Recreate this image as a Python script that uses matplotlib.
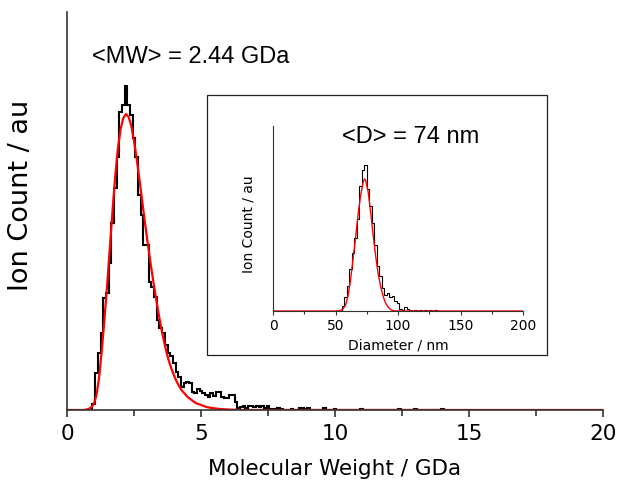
import numpy as np
import matplotlib
matplotlib.use("Agg")
import matplotlib.pyplot as plt
from matplotlib.patches import Rectangle
from matplotlib.ticker import MultipleLocator

# molecular weight histogram, 0.1 GDa bins starting at 0.95 GDa
mw_first_edge = 0.95
mw_bin_width = 0.1
mw_counts = [6, 37, 57, 77, 112, 117, 147, 187, 222, 253,
             298, 305, 324, 305, 295, 272, 253, 215, 195, 165,
             165, 128, 123, 113, 90, 82, 77, 65, 57, 54,
             47, 38, 33, 23, 27, 28, 27, 18, 17, 21,
             19, 17, 15, 13, 17, 14, 18, 18, 13, 12,
             12, 15, 15, 8, 2, 3, 4, 2, 4, 4,
             3, 4, 3, 4, 2, 4, 1, 1, 1, 2,
             1]
# isolated counts further out in the tail
mw_outlier_centres = [8.4, 8.7, 8.8, 8.9, 9.0, 9.6, 10.0, 11.0, 12.4, 13.0, 14.0]
mw_outlier_counts = [1, 2, 2, 1, 2, 2, 1, 1, 1, 1, 1]

# fitted distribution for the molecular weight
mw_fit_x = [0, 0.6, 0.7, 0.8, 0.9, 1.0, 1.1, 1.2, 1.3, 1.4,
            1.5, 1.6, 1.7, 1.8, 1.9, 2.0, 2.1, 2.2, 2.3, 2.4,
            2.5, 2.6, 2.7, 2.8, 2.9, 3.0, 3.1, 3.2, 3.3, 3.4,
            3.5, 3.6, 3.7, 3.8, 3.9, 4.0, 4.1, 4.2, 4.3, 4.4,
            4.5, 4.6, 4.7, 4.8, 4.9, 5.0, 5.2, 5.4, 5.7, 6.0,
            6.5, 20]
mw_fit_y = [0, 0, 0.3, 1, 2.5, 6, 15, 33, 60, 92,
            126, 163, 200, 234, 262, 281, 292, 296, 293, 284,
            269, 251, 231, 210, 189, 169, 150, 132, 115, 99,
            84, 71, 59, 49, 41, 34, 28, 23, 19, 16,
            13, 11, 9, 7, 6, 5, 3, 2, 1, 0.5,
            0, 0]

# diameter histogram, 2 nm bins starting at 55 nm
d_first_edge = 55
d_bin_width = 2
d_counts = [5, 14, 25, 42, 58, 73, 92, 125, 141, 146,
            122, 105, 88, 66, 45, 35, 23, 16, 18, 14,
            15, 10, 8, 2, 1, 4, 2, 1]
d_outlier_centres = [114, 118, 122, 126, 130]
d_outlier_counts = [1, 1, 1, 0.5, 0.5]

# fitted distribution for the diameter
d_fit_x = [0, 50, 52, 54, 56, 58, 60, 62, 64, 66,
           68, 70, 72, 73, 74, 76, 78, 80, 82, 84,
           86, 88, 90, 92, 94, 96, 98, 200]
d_fit_y = [0, 0, 0.2, 0.6, 2, 6, 15, 31, 52, 73,
           96, 115, 128, 132, 131, 120, 100, 77, 56, 38,
           25, 15, 8, 4, 1.5, 0.5, 0, 0]

mw_label = "<MW> = 2.44 GDa"
d_label = "<D> = 74 nm"

SPINE = "#333333"


def binned(first_edge, width, counts, outlier_centres, outlier_counts):
    # put the sparse outliers into the regular bin grid
    last = max(outlier_centres)
    nbins = int(round((last - first_edge) / width)) + 1
    values = np.zeros(nbins)
    values[:len(counts)] = counts
    for c, n in zip(outlier_centres, outlier_counts):
        values[int((c - first_edge) // width)] = n
    edges = first_edge + width * np.arange(nbins + 1)
    return values, edges


def style_axes(ax, lw, major_len, minor_len):
    for side in ("top", "right"):
        ax.spines[side].set_visible(False)
    for side in ("left", "bottom"):
        ax.spines[side].set_linewidth(lw)
        ax.spines[side].set_color(SPINE)
    ax.set_yticks([])
    ax.tick_params(axis="x", which="major", direction="out",
                   length=major_len, width=lw, color=SPINE)
    ax.tick_params(axis="x", which="minor", direction="out",
                   length=minor_len, width=lw, color=SPINE)


fig = plt.figure(figsize=(6.17, 4.86), dpi=100)

##
# main panel: molecular weight
ax = fig.add_axes([0.1086, 0.1564, 0.8687, 0.8189])
values, edges = binned(mw_first_edge, mw_bin_width, mw_counts,
                       mw_outlier_centres, mw_outlier_counts)
ax.stairs(values, edges, color="black", linewidth=1.5, baseline=0)
ax.plot(mw_fit_x, mw_fit_y, color="red", linewidth=1.6, solid_joinstyle="round")
ax.set_xlim(0, 20)
ax.set_ylim(0, 398)
ax.xaxis.set_major_locator(MultipleLocator(5))
ax.xaxis.set_minor_locator(MultipleLocator(2.5))
style_axes(ax, 1.2, 5, 4)
ax.tick_params(axis="x", labelsize=15.5, pad=5)
ax.set_xlabel("Molecular Weight / GDa", fontsize=15.5, labelpad=11)
ax.set_ylabel("Ion Count / au", fontsize=19.5)
ax.yaxis.set_label_coords(-0.062, 0.538)

fig.text(0.3088, 0.8827, mw_label, fontsize=17, family="Liberation Sans",
         ha="center", va="center")

##
# inset frame and diameter panel
fig.add_artist(Rectangle((0.3355, 0.2695), 0.551, 0.535, transform=fig.transFigure,
                         fill=False, edgecolor="#222222", linewidth=0.9))

ins = fig.add_axes([0.4425, 0.3601, 0.4052, 0.3807])
values, edges = binned(d_first_edge, d_bin_width, d_counts,
                       d_outlier_centres, d_outlier_counts)
ins.stairs(values, edges, color="black", linewidth=0.8, baseline=0)
ins.plot(d_fit_x, d_fit_y, color="red", linewidth=1.0)
ins.set_xlim(0, 200)
ins.set_ylim(0, 185)
ins.xaxis.set_major_locator(MultipleLocator(50))
ins.xaxis.set_minor_locator(MultipleLocator(25))
style_axes(ins, 0.8, 3, 2)
ins.tick_params(axis="x", labelsize=10, pad=3)
ins.set_xlabel("Diameter / nm", fontsize=10, labelpad=4)
ins.set_ylabel("Ion Count / au", fontsize=10)
ins.yaxis.set_label_coords(-0.072, 0.47)

fig.text(0.6661, 0.7181, d_label, fontsize=17, family="Liberation Sans",
         ha="center", va="center")

fig.savefig("out.png", dpi=100)
